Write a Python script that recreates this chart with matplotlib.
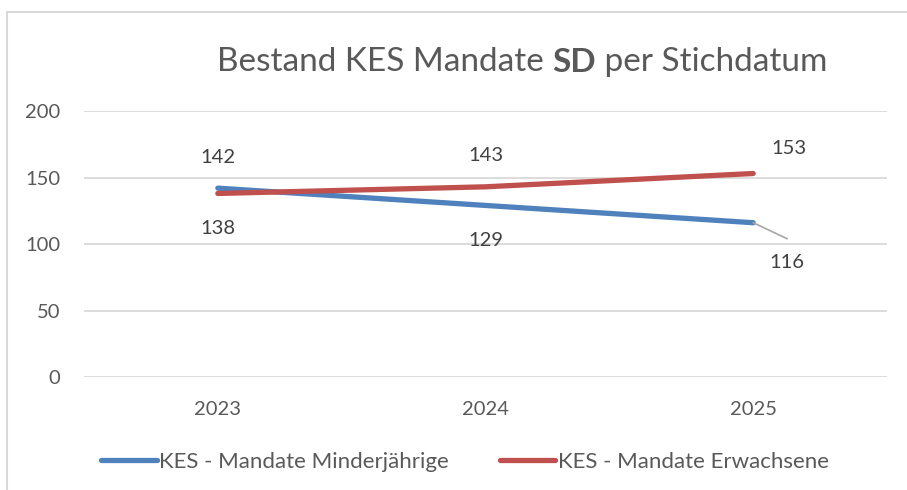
import matplotlib.pyplot as plt
from matplotlib.lines import Line2D

# Daten
jahre = ['2023', '2024', '2025']
minderjaehrige = [142, 129, 116]
erwachsene = [138, 143, 153]
y_ticks = [0, 50, 100, 150, 200]

BLAU = '#4F81BD'
ROT = '#C0504D'
TEXT = '#595959'
GRID = '#D9D9D9'

plt.rcParams['font.family'] = ['Lato', 'DejaVu Sans']

fig = plt.figure(figsize=(9.07, 4.90), dpi=100)
ax = fig.add_axes([84/907, 1 - 377/490, (887 - 84)/907, (377 - 111)/490])

x = [i + 0.5 for i in range(len(jahre))]
ax.plot(x, minderjaehrige, color=BLAU, lw=3.8, solid_capstyle='round',
        label='KES - Mandate Minderjährige', zorder=3)
ax.plot(x, erwachsene, color=ROT, lw=3.8, solid_capstyle='round',
        label='KES - Mandate Erwachsene', zorder=3)

ax.set_xlim(0, 3)
ax.set_ylim(0, 200)
ax.set_yticks(y_ticks)
ax.set_xticks(x)
ax.set_xticklabels(jahre)
ax.grid(axis='y', color=GRID, lw=1.3)
ax.set_axisbelow(True)
for s in ax.spines.values():
    s.set_visible(False)
ax.tick_params(length=0, colors=TEXT, labelsize=14.5)
ax.tick_params(axis='y', pad=17)
ax.tick_params(axis='x', pad=17)

# Datenbeschriftungen (Offset in Pixel)
oben, unten = (0, 31), (0, -35)
for xi, v, off in zip(x[:2], minderjaehrige[:2], [oben, unten]):
    ax.annotate(str(v), (xi, v), xytext=off, textcoords='offset pixels',
                ha='center', va='center', fontsize=14.5, color='#404040')
for xi, v, off in zip(x[:2], erwachsene[:2], [unten, oben]):
    ax.annotate(str(v), (xi, v), xytext=off, textcoords='offset pixels',
                ha='center', va='center', fontsize=14.5, color='#404040')
ax.annotate(str(erwachsene[-1]), (x[-1], erwachsene[-1]), xytext=(36, 25),
            textcoords='offset pixels', ha='center', va='center',
            fontsize=14.5, color='#404040')
# 116 mit Fuehrungslinie
ax.annotate('', (x[-1], minderjaehrige[-1]), xytext=(34, -16),
            textcoords='offset pixels',
            arrowprops=dict(arrowstyle='-', color='#A6A6A6', lw=1.2,
                            shrinkA=0, shrinkB=0))
ax.annotate(str(minderjaehrige[-1]), (x[-1], minderjaehrige[-1]), xytext=(34, -40),
            textcoords='offset pixels', ha='center', va='center',
            fontsize=14.5, color='#404040')

# Titel mit fettem "SD"
t1 = fig.text(217/907, 1 - 62/490, 'Bestand KES Mandate ', fontsize=24,
              color=TEXT, va='center', ha='left')
t2 = ax.annotate('SD', xy=(1, 0), xycoords=t1, va='bottom', ha='left',
                 fontsize=24, color=TEXT, weight='bold')
ax.annotate(' per Stichdatum', xy=(1, 0), xycoords=t2, va='bottom', ha='left',
            fontsize=24, color=TEXT)

# Legende
fig.legend(loc='center', bbox_to_anchor=(465/907, 1 - 462/490), ncol=2,
           frameon=False, fontsize=16, labelcolor=TEXT, handlelength=2.5,
           handletextpad=0.1, columnspacing=2.3)

# Rahmen des Diagrammbereichs
fig.add_artist(Line2D([7/907, 7/907], [0, 1 - 12/490], color=GRID, lw=1.5,
                      transform=fig.transFigure))
fig.add_artist(Line2D([7/907, 1], [1 - 12/490, 1 - 12/490], color=GRID, lw=1.5,
                      transform=fig.transFigure))

fig.savefig('out.png', dpi=100)
